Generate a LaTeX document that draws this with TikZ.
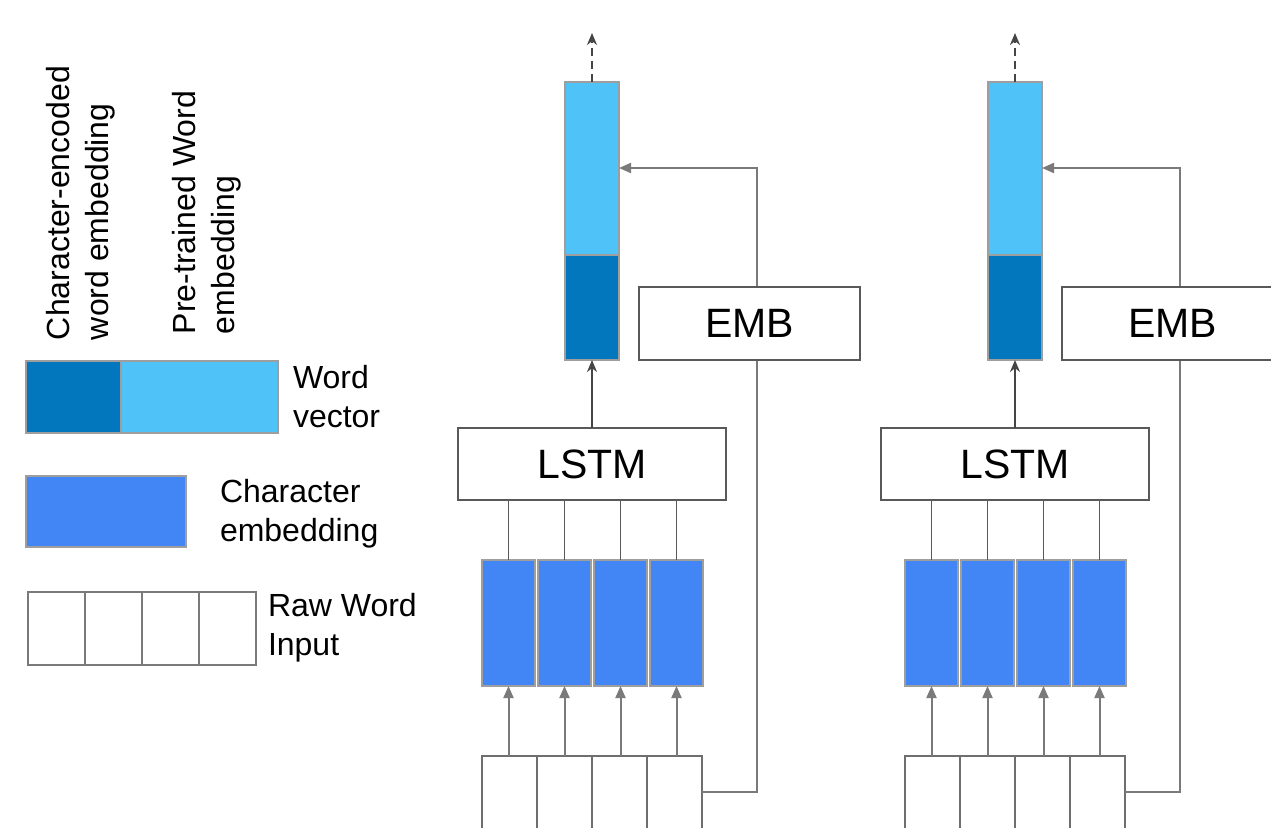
\documentclass[tikz,border=0pt]{standalone}
\usepackage{fontspec}
\setmainfont{Liberation Sans}
\usetikzlibrary{arrows.meta}
\definecolor{wordlight}{HTML}{4FC3F7}
\definecolor{worddark}{HTML}{0277BD}
\definecolor{charblue}{HTML}{4285F4}
\definecolor{cellgray}{HTML}{9E9E9E}
\definecolor{boxgray}{HTML}{595959}
\definecolor{rawgray}{HTML}{6E6E6E}
\definecolor{wiregray}{HTML}{7A7A7A}
\definecolor{arrowdark}{HTML}{454545}
\begin{document}
\begin{tikzpicture}[x=1pt,y=-1pt,
  cell/.style={draw=cellgray, line width=1.5pt, inner sep=0pt, outer sep=0pt, anchor=north west},
  lightcell/.style={cell, fill=wordlight},
  darkcell/.style={cell, fill=worddark},
  charcell/.style={cell, fill=charblue},
  rawcell/.style={draw=rawgray, line width=2pt, fill=white, inner sep=0pt, outer sep=0pt, anchor=north west},
  block/.style={draw=boxgray, line width=1.8pt, fill=white, inner sep=0pt, outer sep=0pt,
                font=\fontsize{41}{41}\selectfont},
  wire/.style={draw=boxgray, line width=1.8pt},
  feed/.style={draw=wiregray, line width=2pt, -{Triangle[length=12pt,width=10pt]}},
  lift/.style={draw=arrowdark, line width=2pt, -{Stealth[length=12pt,width=10pt]}},
  legtext/.style={inner sep=0pt, outer sep=0pt, align=left, font=\fontsize{32}{39.5}\selectfont},
]
\clip (0,0) rectangle (1271,827);

% ---- legend: rotated captions (anchored on the baseline of the second line)
\node[legtext, rotate=90, anchor=base west] (capchar) at (108.5,340) {Character-encoded\\word embedding};
\node[legtext, rotate=90, anchor=base west] (capword) at (234.5,334) {Pre-trained Word\\embedding};

% ---- legend: word vector
\node[darkcell, minimum width=95pt, minimum height=72pt] (lgdark) at (26,361) {};
\node[lightcell, minimum width=157pt, minimum height=72pt] (lglight) at (121,361) {};
\node[legtext, anchor=base west] (lgwv) at (293,427.5) {Word\\vector};

% ---- legend: character embedding
\node[charcell, minimum width=160pt, minimum height=71pt] (lgchar) at (26,476) {};
\node[legtext, anchor=base west] (lgce) at (220,541.5) {Character\\embedding};

% ---- legend: raw word input
\foreach \j in {1,...,4}
  \node[rawcell, draw=wiregray, minimum width=57pt, minimum height=73pt] (lgraw\j) at ({28+57*(\j-1)},592) {};
\node[legtext, anchor=base west] (lgri) at (268,655.5) {Raw Word\\Input};

% ---- two identical word encoders
\foreach \k/\dx in {1/0,2/423}{
\begin{scope}[xshift=\dx pt]
  % word vector column
  \node[lightcell, minimum width=54pt, minimum height=173pt] (top\k) at (565,82) {};
  \node[darkcell, minimum width=54pt, minimum height=105pt] (bot\k) at (565,255) {};
  \coordinate (out\k) at (592,33);
  \draw[lift, dash pattern=on 8pt off 5pt] (top\k.north) -- (out\k);
  % raw character cells
  \foreach \j in {1,...,4}
    \node[rawcell, minimum width=55pt, minimum height=100pt] (raw\k\j) at ({482+55*(\j-1)},756) {};
  % word lookup path, passing behind the EMB box
  \coordinate (bend\k) at (757,792);
  \coordinate (turn\k) at (757,168);
  \draw[feed] ([yshift=-36pt]raw\k4.north east) -- (bend\k) -- (turn\k) -- (turn\k -| top\k.east);
  \node[block, minimum width=221pt, minimum height=73pt] (emb\k) at (749.5,323.5) {EMB};
  % character LSTM
  \node[block, minimum width=268pt, minimum height=72pt] (lstm\k) at (592,464) {LSTM};
  \draw[lift] (lstm\k.north) -- (bot\k.south);
  \foreach \j in {1,...,4}{
    \node[charcell, minimum width=53pt, minimum height=126pt] (chr\k\j) at ({482+56*(\j-1)},560) {};
    \draw[wire] (chr\k\j.north) -- (chr\k\j.north |- lstm\k.south);
    \draw[feed] (chr\k\j.south |- raw\k\j.north) -- (chr\k\j.south);
  }
\end{scope}
}
\end{tikzpicture}
\end{document}
